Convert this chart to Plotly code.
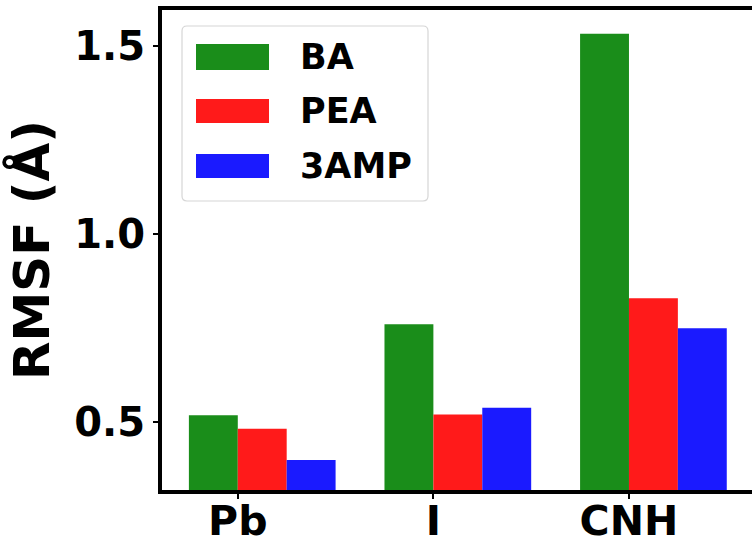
import plotly.graph_objects as go

categories = ["Pb", "I", "CNH"]
series_names = ["BA", "PEA", "3AMP"]
ba_values = [0.518, 0.760, 1.533]
pea_values = [0.482, 0.520, 0.829]
amp_values = [0.399, 0.538, 0.749]
y_tick_vals = [0.5, 1.0, 1.5]
y_tick_text = ["0.5", "1.0", "1.5"]
colors = ["#1a8d1a", "#ff1a1a", "#1a1aff"]

W, H = 752, 539
L, R, T, B = 162, 0, 10, 49
PW, PH = W - L - R, H - T - B

FONT = "DejaVu Sans"
xpos = list(range(len(categories)))
bar_w = 0.25
offsets = [-0.25, 0.0, 0.25]

fig = go.Figure()
for name, vals, col, off in zip(series_names, [ba_values, pea_values, amp_values], colors, offsets):
    fig.add_trace(go.Bar(
        x=xpos, y=vals, name=name, width=bar_w, offset=off,
        marker=dict(color=col, line=dict(width=0)),
        showlegend=False,
    ))

def px(x):
    return (x - L) / PW

def py(y):
    return (H - B - y) / PH

shapes = []
# legend box with rounded corners
x0, x1, y0, y1, r = 182, 428, 26, 201, 5
path = (f"M {px(x0+r)},{py(y0)} L {px(x1-r)},{py(y0)} "
        f"Q {px(x1)},{py(y0)} {px(x1)},{py(y0+r)} "
        f"L {px(x1)},{py(y1-r)} Q {px(x1)},{py(y1)} {px(x1-r)},{py(y1)} "
        f"L {px(x0+r)},{py(y1)} Q {px(x0)},{py(y1)} {px(x0)},{py(y1-r)} "
        f"L {px(x0)},{py(y0+r)} Q {px(x0)},{py(y0)} {px(x0+r)},{py(y0)} Z")
shapes.append(dict(type="path", xref="paper", yref="paper", path=path,
                   line=dict(color="#d6d6d6", width=1.2), fillcolor="rgba(255,255,255,0.8)"))
annotations = []
sw_y = [(44, 70), (99, 123), (154, 178)]
for (a, b), col, name in zip(sw_y, colors, series_names):
    shapes.append(dict(type="rect", xref="paper", yref="paper",
                       x0=px(196), x1=px(269), y0=py(b), y1=py(a),
                       fillcolor=col, line=dict(width=0)))
    annotations.append(dict(xref="paper", yref="paper", x=px(298), y=py((a + b) / 2),
                            text=name, showarrow=False, xanchor="left", yanchor="middle",
                            font=dict(family=FONT, size=35, color="black", weight="bold")))

fig.update_layout(
    width=W, height=H,
    margin=dict(l=L, r=R, t=T, b=B, pad=0, autoexpand=False),
    plot_bgcolor="white", paper_bgcolor="white",
    barmode="overlay",
    shapes=shapes, annotations=annotations,
    xaxis=dict(
        range=[-0.3875, 2.629], tickvals=xpos, ticktext=categories,
        showline=True, linecolor="black", linewidth=4, mirror=True,
        ticks="outside", ticklen=5, tickwidth=1.5, tickcolor="black",
        ticklabelstandoff=-13,
        showgrid=False, zeroline=False, automargin=False,
        tickfont=dict(family=FONT, size=41, color="black", weight="bold"),
    ),
    yaxis=dict(
        range=[0.319, 1.596], tickvals=y_tick_vals, ticktext=y_tick_text,
        showline=True, linecolor="black", linewidth=4,
        ticks="outside", ticklen=5, tickwidth=1.5, tickcolor="black",
        showgrid=False, zeroline=False, automargin=False,
        tickfont=dict(family=FONT, size=40, color="black", weight="bold"),
        title=dict(text="RMSF (Å)", standoff=10,
                   font=dict(family=FONT, size=50, color="black", weight="bold")),
    ),
)

fig.write_html("out.html", config={"displayModeBar": False},
               post_script="document.body.style.margin='0';document.body.style.overflow='hidden';")
